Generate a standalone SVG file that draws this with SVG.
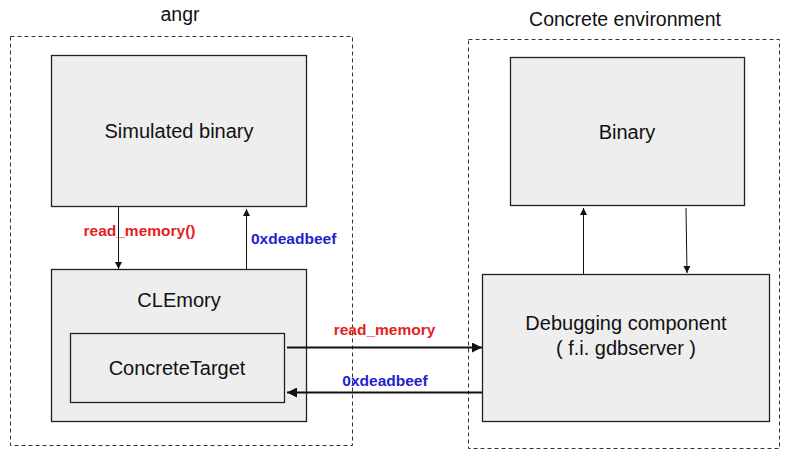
<svg xmlns="http://www.w3.org/2000/svg" width="791" height="458" viewBox="0 0 791 458">
<style>
.grp{fill:none;stroke:#333;stroke-width:1;stroke-dasharray:4,3}
.box{fill:#eeeeee;stroke:#222;stroke-width:1.3}
.t{font-family:"Liberation Sans",Arial,sans-serif;font-size:20px;fill:#111;text-anchor:middle}
.gt{font-family:"Liberation Sans",Arial,sans-serif;font-size:19.5px;fill:#111;text-anchor:middle}
.lr{font-family:"Liberation Sans",Arial,sans-serif;font-size:15.5px;font-weight:bold;fill:#e32222}
.lb{font-family:"Liberation Sans",Arial,sans-serif;font-size:15.5px;font-weight:bold;fill:#2222cc}
.c{stroke:#111;stroke-width:1;fill:none}
.c2{stroke:#111;stroke-width:2;fill:none}
</style>
<defs>
<marker id="a" viewBox="0 0 10 10" refX="10" refY="5" markerWidth="7" markerHeight="9" markerUnits="userSpaceOnUse" orient="auto"><path d="M0,0 L10,5 L0,10 z" fill="#111"/></marker>
<marker id="a2" viewBox="0 0 10 10" refX="10" refY="5" markerWidth="12" markerHeight="10" markerUnits="userSpaceOnUse" orient="auto"><path d="M0,0 L10,5 L0,10 z" fill="#111"/></marker>
</defs>
<g id="angr">
<rect class="grp" x="10.5" y="36.5" width="342" height="409"/>
<text class="gt" x="180" y="21">angr</text>
</g>
<g id="concrete-environment">
<rect class="grp" x="468.5" y="39.5" width="311" height="409"/>
<text class="gt" x="625" y="26">Concrete environment</text>
</g>
<g id="simulated-binary">
<rect class="box" x="51.5" y="55.5" width="255" height="151"/>
<text class="t" x="179" y="138">Simulated binary</text>
</g>
<g id="clemory">
<rect class="box" x="51.5" y="269.5" width="255" height="152"/>
<text class="t" x="179" y="307">CLEmory</text>
</g>
<g id="concrete-target">
<rect class="box" x="70.5" y="333.5" width="214" height="69"/>
<text class="t" x="177" y="375">ConcreteTarget</text>
</g>
<g id="binary">
<rect class="box" x="510.5" y="57.5" width="234" height="148"/>
<text class="t" x="627" y="139">Binary</text>
</g>
<g id="debugging-component">
<rect class="box" x="482.5" y="274.5" width="287" height="147"/>
<text class="t" x="626" y="330">Debugging component</text>
<text class="t" x="626" y="355">( f.i. gdbserver )</text>
</g>
<g id="connectors">
<line class="c" x1="118.5" y1="206" x2="118.5" y2="269" marker-end="url(#a)"/>
<line class="c" x1="246.5" y1="269" x2="246.5" y2="209" marker-end="url(#a)"/>
<line class="c" x1="583.5" y1="274" x2="583.5" y2="208" marker-end="url(#a)"/>
<line class="c" x1="686" y1="208" x2="687" y2="273" marker-end="url(#a)"/>
<line class="c2" x1="287" y1="347.5" x2="482" y2="347.5" marker-end="url(#a2)"/>
<line class="c2" x1="482" y1="392.5" x2="287" y2="392.5" marker-end="url(#a2)"/>
<text class="lr" x="139.5" y="236" text-anchor="middle">read_memory()</text>
<text class="lb" x="251" y="244">0xdeadbeef</text>
<text class="lr" x="384.5" y="335" text-anchor="middle">read_memory</text>
<text class="lb" x="385" y="386" text-anchor="middle">0xdeadbeef</text>
</g>
</svg>
